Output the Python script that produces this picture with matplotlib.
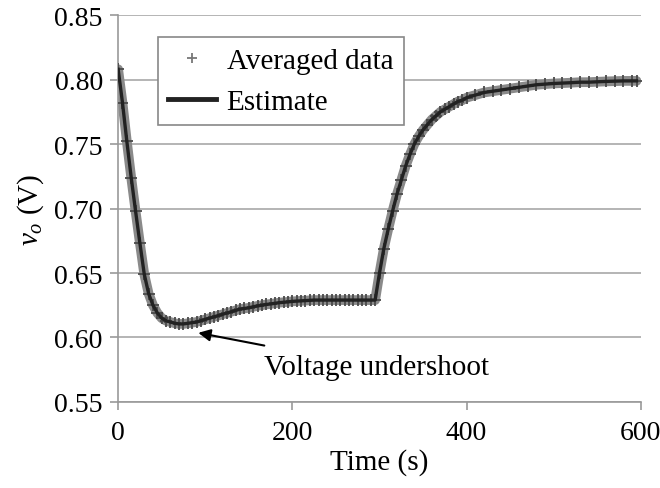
import matplotlib
matplotlib.use("Agg")
import matplotlib.pyplot as plt

plt.rcParams['font.family'] = ['Liberation Serif', 'DejaVu Serif']
plt.rcParams['mathtext.fontset'] = 'custom'
plt.rcParams['mathtext.rm'] = 'Liberation Serif'
plt.rcParams['mathtext.it'] = 'Liberation Serif:italic'

# time axis (s), averaged output voltage and fitted estimate (V)
t = [0, 5, 10, 15, 20, 25, 30, 35, 40, 45, 50, 55, 60, 65, 70, 75, 80, 85, 90, 95,
     100, 105, 110, 115, 120, 125, 130, 135, 140, 145, 150, 155, 160, 165, 170, 175,
     180, 185, 190, 195, 200, 205, 210, 215, 220, 225, 230, 235, 240, 245, 250, 255,
     260, 265, 270, 275, 280, 285, 290, 295, 300, 305, 310, 315, 320, 325, 330, 335,
     340, 345, 350, 355, 360, 365, 370, 375, 380, 385, 390, 395, 400, 410, 420, 430,
     440, 450, 460, 470, 480, 490, 500, 510, 520, 530, 540, 550, 560, 570, 580, 590, 595]
v_avg = [0.808, 0.782, 0.752, 0.724, 0.698, 0.673, 0.649, 0.634, 0.625, 0.619, 0.615,
         0.613, 0.612, 0.611, 0.6105, 0.6105, 0.611, 0.6115, 0.612, 0.613, 0.614,
         0.615, 0.616, 0.617, 0.618, 0.619, 0.620, 0.621, 0.622, 0.6225, 0.623,
         0.6238, 0.6245, 0.625, 0.6256, 0.626, 0.6265, 0.627, 0.6273, 0.6276, 0.628,
         0.6282, 0.6284, 0.6286, 0.6288, 0.629, 0.629, 0.629, 0.629, 0.629, 0.629,
         0.629, 0.629, 0.629, 0.629, 0.629, 0.629, 0.629, 0.629, 0.629, 0.650, 0.669,
         0.684, 0.698, 0.711, 0.722, 0.733, 0.742, 0.750, 0.756, 0.761, 0.765, 0.769,
         0.772, 0.775, 0.777, 0.779, 0.781, 0.783, 0.784, 0.786, 0.788, 0.790, 0.791,
         0.792, 0.793, 0.794, 0.795, 0.796, 0.7965, 0.797, 0.7973, 0.7976, 0.798,
         0.798, 0.7983, 0.7986, 0.7988, 0.799, 0.799, 0.799]
v_est = [0.808, 0.782, 0.752, 0.724, 0.698, 0.673, 0.649, 0.634, 0.625, 0.619, 0.615,
         0.613, 0.612, 0.611, 0.6105, 0.6105, 0.611, 0.6115, 0.612, 0.613, 0.614,
         0.615, 0.616, 0.617, 0.618, 0.619, 0.620, 0.621, 0.622, 0.6225, 0.623,
         0.6238, 0.6245, 0.625, 0.6256, 0.626, 0.6265, 0.627, 0.6273, 0.6276, 0.628,
         0.6282, 0.6284, 0.6286, 0.6288, 0.629, 0.629, 0.629, 0.629, 0.629, 0.629,
         0.629, 0.629, 0.629, 0.629, 0.629, 0.629, 0.629, 0.629, 0.629, 0.650, 0.669,
         0.684, 0.698, 0.711, 0.722, 0.733, 0.742, 0.750, 0.756, 0.761, 0.765, 0.769,
         0.772, 0.775, 0.777, 0.779, 0.781, 0.783, 0.784, 0.786, 0.788, 0.790, 0.791,
         0.792, 0.793, 0.794, 0.795, 0.796, 0.7965, 0.797, 0.7973, 0.7976, 0.798,
         0.798, 0.7983, 0.7986, 0.7988, 0.799, 0.799, 0.799]

xticks = [0, 200, 400, 600]
yticks = [0.55, 0.60, 0.65, 0.70, 0.75, 0.80, 0.85]

fig = plt.figure(figsize=(6.6, 4.89), dpi=100)
ax = fig.add_axes([0.179, 0.176, 0.792, 0.791])

# grey band of the averaged data, then the + markers, then the estimate
ax.plot(t, v_avg, color='#8a8a8a', lw=7, solid_capstyle='round', zorder=2)
ax.plot(t, v_avg, ls='none', marker='+', ms=8, mew=1.3, color='#4a4a4a',
        label='Averaged data', zorder=3)
ax.plot(t, v_est, color='#222222', lw=2.4, label='Estimate', zorder=4)

ax.set_xlim(0, 600)
ax.set_ylim(0.55, 0.85)
ax.set_xticks(xticks)
ax.set_yticks(yticks)
ax.set_yticklabels(['%.2f' % y for y in yticks])
ax.yaxis.grid(True, color='#a8a8a8', lw=1.2)
ax.set_axisbelow(True)

for s in ['top', 'right']:
    ax.spines[s].set_visible(False)
for s in ['left', 'bottom']:
    ax.spines[s].set_color('#999999')
    ax.spines[s].set_linewidth(1.2)
ax.tick_params(axis='both', direction='out', length=6, width=1.2, color='#999999',
               labelsize=20)
ax.tick_params(axis='x', pad=7)
ax.tick_params(axis='y', pad=5)

ax.set_xlabel('Time (s)', fontsize=21, labelpad=2)
ax.set_ylabel(r'$v_o$ (V)', fontsize=21, labelpad=6)

ax.annotate('Voltage undershoot', xy=(92, 0.6036), xytext=(167, 0.577),
            fontsize=21, va='center', ha='left',
            arrowprops=dict(arrowstyle='-|>', color='black', lw=1.5,
                            mutation_scale=18, shrinkA=22, shrinkB=0))

leg = ax.legend(loc='upper left', bbox_to_anchor=(0.0765, 0.943), borderaxespad=0,
                fontsize=21, fancybox=False, framealpha=1, edgecolor='#888888',
                handlelength=1.65, labelspacing=0.5, borderpad=0.35, handletextpad=0.35)
leg.get_frame().set_linewidth(1.2)
leg.legend_handles[0].set_color('#777777')
leg.legend_handles[0].set_markersize(7)
leg.legend_handles[1].set_linewidth(3.5)

fig.savefig('out.png', dpi=100)
